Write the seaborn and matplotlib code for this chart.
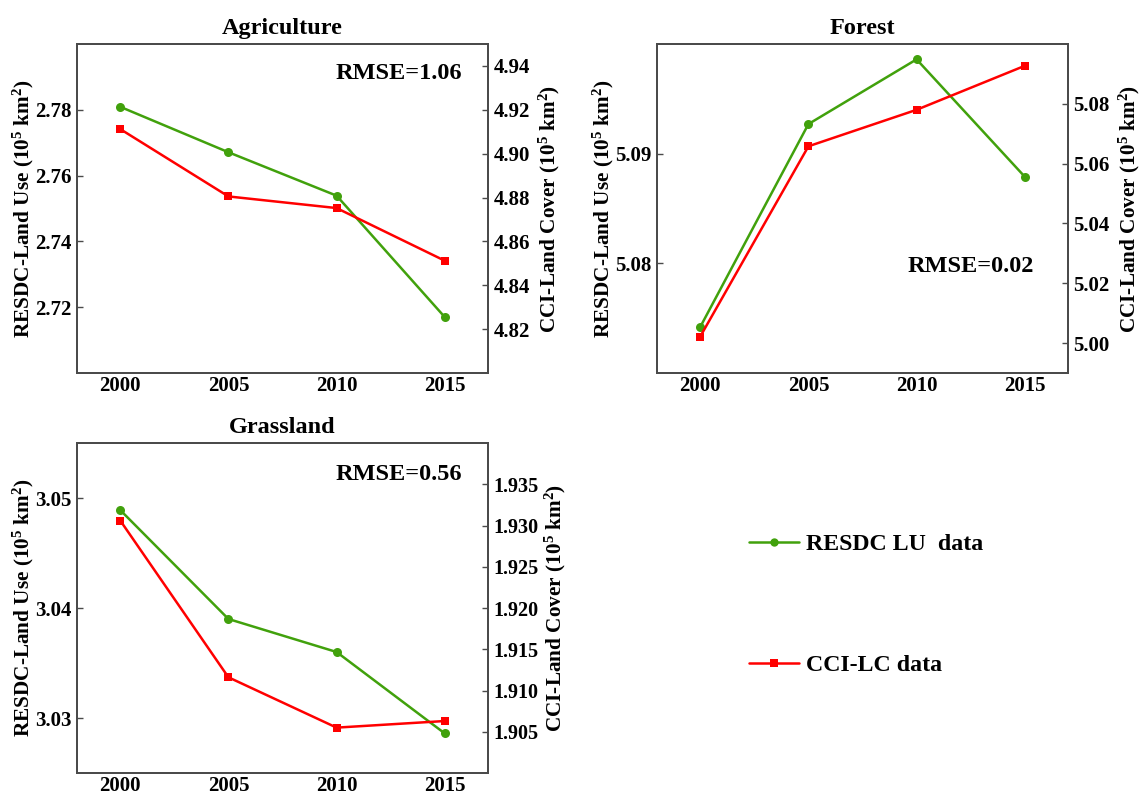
import matplotlib
matplotlib.use("Agg")
import matplotlib.pyplot as plt
import pandas as pd
import seaborn as sns
from matplotlib.lines import Line2D

# ---- data (10^5 km^2) ----
years = [2000, 2005, 2010, 2015]

agri_resdc = [2.7809, 2.7671, 2.7539, 2.7170]
agri_cci = [4.9112, 4.8805, 4.8752, 4.8512]

forest_resdc = [5.0742, 5.0927, 5.0986, 5.0879]
forest_cci = [5.0022, 5.0658, 5.0780, 5.0927]

grass_resdc = [3.0489, 3.0390, 3.0360, 3.0286]
grass_cci = [1.9306, 1.9116, 1.9055, 1.9063]

titles = ["Agriculture", "Forest", "Grassland"]
rmse_labels = ["RMSE=1.06", "RMSE=0.02", "RMSE=0.56"]
series_names = ["RESDC LU  data", "CCI-LC data"]

left_ticks = [[2.72, 2.74, 2.76, 2.78], [5.08, 5.09], [3.03, 3.04, 3.05]]
right_ticks = [[4.82, 4.84, 4.86, 4.88, 4.90, 4.92, 4.94],
               [5.00, 5.02, 5.04, 5.06, 5.08],
               [1.905, 1.910, 1.915, 1.920, 1.925, 1.930, 1.935]]

# ---- styling ----
sns.set_theme(style="white")
plt.rcParams["font.family"] = ["Liberation Serif", "DejaVu Serif"]
plt.rcParams["font.weight"] = "bold"
plt.rcParams["axes.titleweight"] = "bold"
plt.rcParams["axes.labelweight"] = "bold"
plt.rcParams["text.color"] = "black"
plt.rcParams["axes.labelcolor"] = "black"
plt.rcParams["xtick.color"] = "black"
plt.rcParams["ytick.color"] = "black"
plt.rcParams["mathtext.fontset"] = "custom"
plt.rcParams["mathtext.rm"] = "Liberation Serif:bold"
plt.rcParams["mathtext.it"] = "Liberation Serif:bold"
plt.rcParams["mathtext.bf"] = "Liberation Serif:bold"

GREEN = "#41A10C"
RED = "#FF0000"
SPINE = "#4a4a4a"

fig = plt.figure(figsize=(11.41, 7.94), dpi=100)

W = 411 / 1141
H = 329 / 794
positions = [
    (77 / 1141, (794 - 373) / 794, W, H),
    (657 / 1141, (794 - 373) / 794, W, H),
    (77 / 1141, (794 - 773) / 794, W, 330 / 794),
]
left_lims = [(2.70, 2.80), (5.07, 5.10), (3.025, 3.055)]
right_lims = [(4.80, 4.95), (4.99, 5.10), (1.900, 1.940)]
rmse_pos = [(0.937, 0.909), (0.918, 0.323), (0.937, 0.906)]

resdc_all = [agri_resdc, forest_resdc, grass_resdc]
cci_all = [agri_cci, forest_cci, grass_cci]

ylab_left = r"RESDC-Land Use (10$^{5}$ km$^{2}$)"
ylab_right = r"CCI-Land Cover (10$^{5}$ km$^{2}$)"


def style_axis(a):
    for s in a.spines.values():
        s.set_color(SPINE)
        s.set_linewidth(1.3)
        s.set_visible(True)


for i in range(3):
    ax = fig.add_axes(positions[i])
    ax2 = ax.twinx()

    df = pd.DataFrame({"year": years, "resdc": resdc_all[i], "cci": cci_all[i]})

    sns.lineplot(data=df, x="year", y="resdc", ax=ax, color=GREEN,
                 marker="o", markersize=6.5, markeredgewidth=0, linewidth=1.8)
    sns.lineplot(data=df, x="year", y="cci", ax=ax2, color=RED,
                 marker="s", markersize=6, markeredgewidth=0, linewidth=1.8)

    ax.set_xlim(1998, 2017)
    ax.set_xticks(years)
    ax.set_ylim(*left_lims[i])
    ax.set_yticks(left_ticks[i])
    ax2.set_ylim(*right_lims[i])
    ax2.set_yticks(right_ticks[i])

    if i == 2:
        ax2.set_yticklabels([f"{v:.3f}" for v in right_ticks[i]])
    else:
        ax2.set_yticklabels([f"{v:.2f}" for v in right_ticks[i]])
    ax.set_yticklabels([f"{v:.2f}" for v in left_ticks[i]])

    ax.set_xlabel("")
    ax.set_ylabel(ylab_left, fontsize=15.3, labelpad=-1)
    ax2.set_ylabel(ylab_right, fontsize=15.3, labelpad=5 if i < 2 else 3)
    ax.set_title(titles[i], fontsize=17.5, pad=7)

    ax.tick_params(axis="both", direction="in", length=4, width=1,
                   color=SPINE, labelsize=15, pad=4)
    ax.tick_params(axis="x", pad=2)
    ax2.tick_params(axis="y", direction="in", length=4, width=1,
                    color=SPINE, labelsize=15 if i < 2 else 14.5, pad=4)
    style_axis(ax)
    style_axis(ax2)

    ax.text(rmse_pos[i][0], rmse_pos[i][1], rmse_labels[i],
            transform=ax.transAxes, ha="right", va="center",
            fontsize=17.5, fontweight="bold")

handles = [
    Line2D([], [], color=GREEN, marker="o", markersize=6, markeredgewidth=0, linewidth=1.8),
    Line2D([], [], color=RED, marker="s", markersize=5.5, markeredgewidth=0, linewidth=1.8),
]
fig.legend(handles, series_names, loc="center left",
           bbox_to_anchor=(749 / 1141, (794 - 605) / 794),
           frameon=False, labelspacing=4.15,
           handlelength=2.1, handletextpad=0.3, borderpad=0, borderaxespad=0,
           prop={"weight": "bold", "size": 17.2})

fig.savefig("out.png", dpi=100)
